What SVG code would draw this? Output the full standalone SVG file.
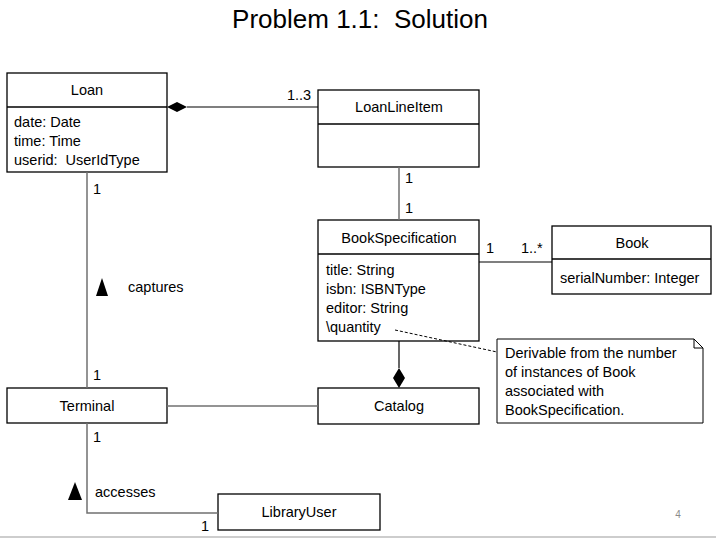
<svg xmlns="http://www.w3.org/2000/svg" width="716" height="538" viewBox="0 0 716 538">
<style>
text{font-family:"Liberation Sans",Arial,sans-serif;font-size:14.5px;fill:#000;white-space:pre}
.c{text-anchor:middle}
.box{fill:#fff;stroke:#000;stroke-width:1.3}
.div{stroke:#000;stroke-width:1.3}
.ln{stroke:#707070;stroke-width:1.5;fill:none}
.lnk{stroke:#000;stroke-width:1.2;fill:none}
</style>
<rect width="716" height="538" fill="#fff"/>
<text x="360" y="28" class="c" style="font-size:26px">Problem 1.1:  Solution</text>
<line x1="0" y1="537" x2="716" y2="537" stroke="#bdbdbd" stroke-width="1.5"/>
<text x="678" y="518" class="c" style="font-size:10px;fill:#8a8a8a">4</text>

<g id="Loan">
  <rect class="box" x="7" y="73" width="160" height="99"/>
  <line class="div" x1="7" y1="107" x2="167" y2="107"/>
  <text x="87" y="95" class="c">Loan</text>
  <text x="14" y="127">date: Date</text>
  <text x="14" y="146">time: Time</text>
  <text x="14" y="165">userid:  UserIdType</text>
</g>

<g id="LoanLineItem">
  <rect class="box" x="318" y="90" width="161" height="77"/>
  <line class="div" x1="318" y1="124" x2="479" y2="124"/>
  <text x="399" y="112" class="c">LoanLineItem</text>
</g>

<g id="BookSpecification">
  <rect class="box" x="318" y="220" width="161" height="121"/>
  <line class="div" x1="318" y1="254" x2="479" y2="254"/>
  <text x="399" y="243" class="c">BookSpecification</text>
  <text x="326" y="275">title: String</text>
  <text x="326" y="294">isbn: ISBNType</text>
  <text x="326" y="313">editor: String</text>
  <text x="326" y="332">\quantity</text>
</g>

<g id="Book">
  <rect class="box" x="552" y="226" width="159" height="68"/>
  <line class="div" x1="552" y1="259" x2="711" y2="259"/>
  <text x="632" y="248" class="c">Book</text>
  <text x="560" y="283">serialNumber: Integer</text>
</g>

<g id="Note">
  <path d="M497,339 H694 L703,348 V423 H497 Z" fill="#fff" stroke="#000" stroke-width="1"/>
  <path d="M694,339 V348 H703" fill="none" stroke="#000" stroke-width="1"/>
  <text x="505" y="358">Derivable from the number</text>
  <text x="505" y="377">of instances of Book</text>
  <text x="505" y="396">associated with</text>
  <text x="505" y="415">BookSpecification.</text>
</g>

<g id="Catalog">
  <rect class="box" x="318" y="388" width="161" height="36"/>
  <text x="399" y="411" class="c">Catalog</text>
</g>

<g id="Terminal">
  <rect class="box" x="7" y="388" width="160" height="35"/>
  <text x="87" y="411" class="c">Terminal</text>
</g>

<g id="LibraryUser">
  <rect class="box" x="218" y="494" width="162" height="36"/>
  <text x="299" y="517" class="c">LibraryUser</text>
</g>

<g id="connectors">
  <line class="lnk" x1="187" y1="107" x2="318" y2="107"/>
  <polygon points="167,107 177,102 187,107 177,112" fill="#000"/>
  <text x="287" y="100">1..3</text>
  <line class="ln" x1="399" y1="167" x2="399" y2="220"/>
  <text x="405" y="183">1</text>
  <text x="405" y="213">1</text>
  <line class="lnk" x1="479" y1="262" x2="552" y2="262"/>
  <text x="486" y="253">1</text>
  <text x="521" y="253">1..*</text>
  <line x1="395" y1="330" x2="497" y2="352" stroke="#000" stroke-width="1" stroke-dasharray="3,2"/>
  <line class="lnk" x1="399" y1="341" x2="399" y2="368"/>
  <polygon points="399,368 405,378 399,388 393,378" fill="#000"/>
  <line class="ln" x1="167" y1="406" x2="318" y2="406"/>
  <line class="ln" x1="87" y1="172" x2="87" y2="388"/>
  <text x="93" y="194">1</text>
  <text x="93" y="380">1</text>
  <polygon points="102,278 108,296 96,296" fill="#000"/>
  <text x="128" y="292">captures</text>
  <polyline class="ln" points="87,423 87,513 218,513"/>
  <text x="93" y="442">1</text>
  <polygon points="75,482 82,500 68,500" fill="#000"/>
  <text x="95" y="497">accesses</text>
  <text x="201" y="531">1</text>
</g>
</svg>
